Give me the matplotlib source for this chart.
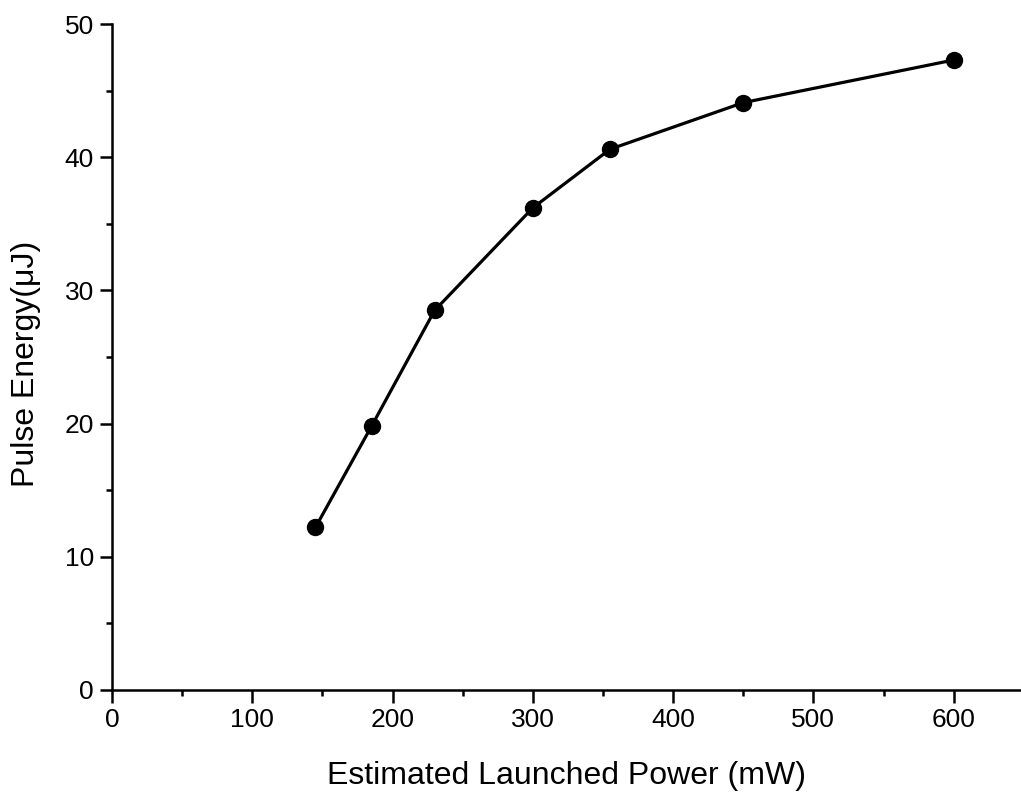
import numpy as np
import matplotlib.pyplot as plt
from matplotlib.ticker import MultipleLocator

# Datos
power_mw = [145, 185, 230, 300, 355, 450, 600]
energy_uj = [12.2, 19.8, 28.5, 36.2, 40.6, 44.1, 47.3]

plt.rcParams['font.family'] = ['Liberation Sans', 'DejaVu Sans']

fig = plt.figure(figsize=(10.21, 8.02), dpi=100)
ax = fig.add_axes([0.1097, 0.1397, 0.8903, 0.8303])

ax.plot(power_mw, energy_uj, color='black', linewidth=2.3, marker='o',
        markersize=11.5, markerfacecolor='black', markeredgecolor='black')

ax.set_xlim(0, 648)
ax.set_ylim(0, 50)
ax.xaxis.set_major_locator(MultipleLocator(100))
ax.xaxis.set_minor_locator(MultipleLocator(50))
ax.yaxis.set_major_locator(MultipleLocator(10))
ax.yaxis.set_minor_locator(MultipleLocator(5))

for side in ['top', 'right']:
    ax.spines[side].set_visible(False)
for side in ['left', 'bottom']:
    ax.spines[side].set_linewidth(1.8)

ax.tick_params(which='major', direction='out', length=9, width=1.8,
               labelsize=19, pad=4)
ax.tick_params(which='minor', direction='out', length=4.5, width=1.8)

ax.set_xlabel("Estimated Launched Power (mW)", fontsize=23, labelpad=21)
ax.set_ylabel("Pulse Energy(μJ)", fontsize=23)
# posición de la etiqueta Y (coordenadas de ejes)
ax.yaxis.set_label_coords(-0.078, 0.49)

fig.savefig("out.png", dpi=100)
